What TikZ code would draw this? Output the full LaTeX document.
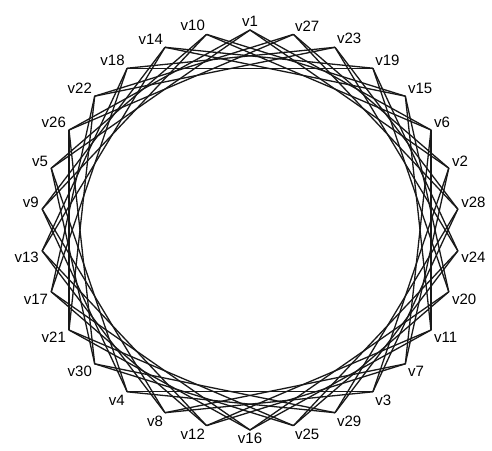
\documentclass[tikz,border=0pt]{standalone}
\usepackage{fontspec}
\setmainfont{Liberation Sans}
\begin{document}
\begin{tikzpicture}[x=1pt,y=-1pt,
  vtx/.style={circle,inner sep=0pt,minimum size=0pt},
  edge/.style={line width=1.3pt,black!90,line cap=round,line join=round},
  lbl/.style={font=\fontsize{15}{15}\selectfont,inner sep=1pt,label distance=2pt}]
\useasboundingbox[fill=white] (0,0) rectangle (492,450);
\foreach \p/\l in {0/1,1/27,2/23,3/19,4/15,5/6,6/2,7/28,8/24,9/20,10/11,11/7,12/3,13/29,14/25,15/16,16/12,17/8,18/4,19/30,20/21,21/17,22/13,23/9,24/5,25/26,26/22,27/18,28/14,29/10} {
  \pgfmathsetmacro{\a}{12*\p}
  \pgfmathsetmacro{\ang}{90-12*\p}
  \node[vtx,label={[lbl]\ang:v\l}] (n\p) at ({250+209*sin(\a)},{230-200*cos(\a)}) {};
}
\foreach \p in {0,...,29} {
  \pgfmathtruncatemacro{\q}{mod(\p+5,30)}
  \pgfmathtruncatemacro{\r}{mod(\p+6,30)}
  \draw[edge] (n\p) -- (n\q);
  \draw[edge] (n\p) -- (n\r);
}
\end{tikzpicture}
\end{document}
